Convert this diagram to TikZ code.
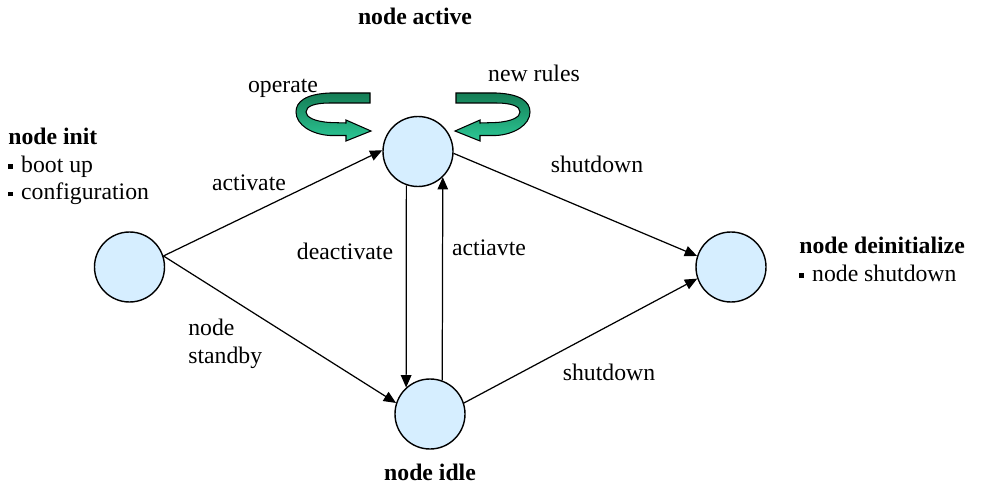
\documentclass[tikz,border=0pt]{standalone}
\usepackage{fontspec}
\setmainfont{Liberation Serif}
\usetikzlibrary{arrows.meta,positioning}

\definecolor{statefill}{RGB}{214,238,255}
\definecolor{turndark}{RGB}{20,125,85}
\definecolor{turnlight}{RGB}{45,200,150}
\newcommand{\sq}{\raisebox{1.6pt}{\rule{2.8pt}{2.8pt}}\hspace{4.5pt}}

\begin{document}
\begin{tikzpicture}[
    statenode/.style={circle, draw, line width=0.8pt, fill=statefill, minimum size=1.4cm, inner sep=0pt},
    edge/.style={line width=0.7pt, -{Triangle[length=7pt,width=6pt]}},
    lbl/.style={inner sep=0pt, font=\rmfamily\fontsize{13.5}{15.5}\selectfont},
    head/.style={inner sep=0pt, font=\rmfamily\bfseries\fontsize{13.5}{15.5}\selectfont},
    turnarrow/.pic={
      \draw [line width=0.6pt, top color=turndark, bottom color=turnlight]
        (-0.02,0.76) -- (-0.82,0.76) .. controls (-1.32,0.74) and (-1.50,0.58) .. (-1.50,0.38)
        .. controls (-1.50,0.12) and (-1.18,-0.07) .. (-0.82,-0.09) -- (-0.50,-0.09) -- (-0.50,-0.20)
        -- (0,0) -- (-0.50,0.22) -- (-0.50,0.16) -- (-0.82,0.17)
        .. controls (-1.14,0.19) and (-1.30,0.28) .. (-1.30,0.38)
        .. controls (-1.30,0.50) and (-1.12,0.56) .. (-0.82,0.56) -- (-0.02,0.56) -- cycle;
    }
  ]
  \useasboundingbox (0,0) rectangle (19.72,9.78);

  % states
  \node [statenode] (init) at (2.59,4.44) {};
  \node [statenode] (active) at (8.36,6.75) {};
  \node [statenode] (idle) at (8.60,1.50) {};
  \node [statenode] (deinit) at (14.62,4.44) {};

  % self loops on the active node
  \pic at (7.42,7.16) {turnarrow};
  \pic [xscale=-1] at (9.10,7.16) {turnarrow};

  % transitions
  \draw [edge] (init.18) -- (active.178);
  \draw [edge] (init.18) -- (idle.162);
  \draw [edge] (active.-109) -- (idle.132);
  \draw [edge] (idle.70) -- (active.-46);
  \draw [edge] (active.-3) -- (deinit.162);
  \draw [edge] (idle.18) -- (deinit.199);

  % state titles
  \node [head, anchor=base] (activetitle) at (8.30,9.28) {node active};
  \node [head, anchor=base] (idletitle) at (8.60,0.18) {node idle};
  \node [lbl, anchor=north west, align=left] (inittext) at (0.16,7.22)
    {{\bfseries node init}\\ \sq boot up\\ \sq configuration};
  \node [lbl, anchor=north west, align=left] (deinittext) at (15.98,5.04)
    {{\bfseries node deinitialize}\\ \sq node shutdown};

  % transition labels
  \node [lbl, anchor=base] (operatelbl) at (5.66,7.92) {operate};
  \node [lbl, anchor=base] (ruleslbl) at (10.68,8.14) {new rules};
  \node [lbl, anchor=base] (activatelbl) at (4.98,5.96) {activate};
  \node [lbl, anchor=north west, align=left] (standbylbl) at (3.76,3.40) {node\\ standby};
  \node [lbl, anchor=base] (deactlbl) at (6.90,4.60) {deactivate};
  \node [lbl, anchor=base] (reactlbl) at (9.78,4.68) {actiavte};
  \node [lbl, anchor=base] (shutalbl) at (11.94,6.32) {shutdown};
  \node [lbl, anchor=base] (shutblbl) at (12.18,2.18) {shutdown};
\end{tikzpicture}
\end{document}
